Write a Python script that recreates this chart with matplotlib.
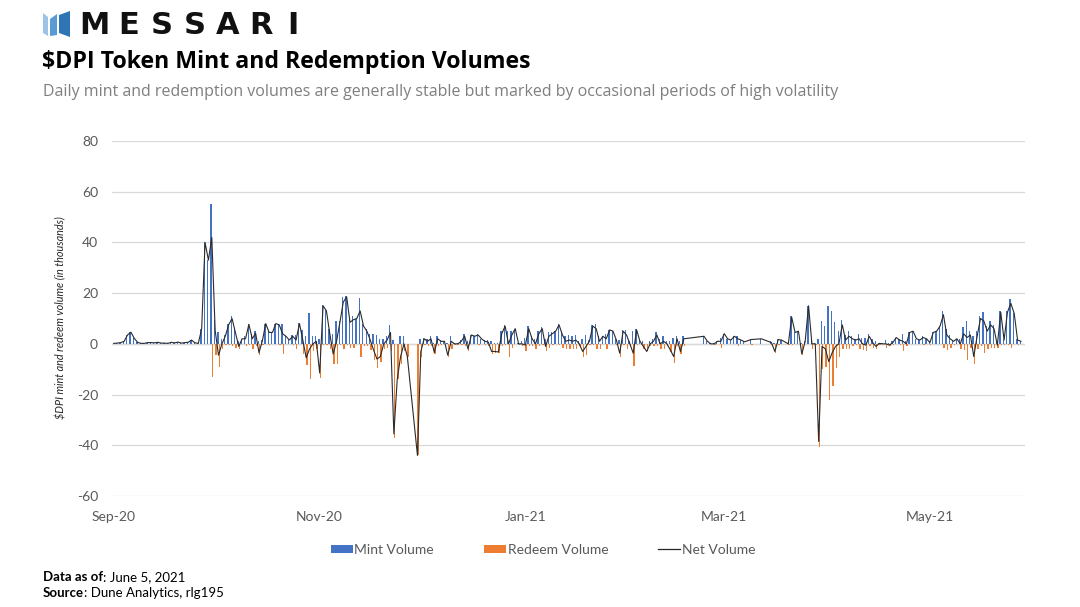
import numpy as np
import pandas as pd
import matplotlib
matplotlib.use("Agg")
import matplotlib.pyplot as plt
import matplotlib.dates as mdates
from matplotlib.patches import Polygon, Patch
from matplotlib.lines import Line2D

plt.rcParams["axes.unicode_minus"] = False

# ---------------- data (thousands of $DPI), daily from 2020-09-01 ----------------
start_date = "2020-09-01"
N = None  # day with no data

mint = [
    0.2, 0.3, 0.5, 1.0, 3.5, 4.6, 2.2, 0.6, 0.2, 0.3,
    0.5, 0.6, 0.4, 0.6, 0.3, 0.5, 0.2, 0.6, 0.4, 0.7,
    0.3, 0.5, 0.6, 1.5, 0.4, 0.2, 6.0, 40.0, 33.0, 55.0,
    9.5, 4.5, 2.0, 3.5, 8.0, 11.0, 6.0, 1.0, 2.0, 3.0,
    8.0, 4.0, 5.0, 1.0, 1.5, 8.0, 5.0, 4.5, 8.0, 8.0,
    8.0, 3.0, 1.5, 3.5, 3.5, 8.2, 5.5, 3.0, 12.0, 3.0,
    3.0, 2.0, 15.5, 13.5, 6.0, 4.0, 9.0, 9.0, 18.5, 19.0,
    10.0, 11.0, 10.0, 18.0, 8.0, 6.0, 4.0, 4.0, 3.5, 2.0,
    2.0, 3.0, 7.5, 1.5, 0.0, 3.0, 3.0, 0.0, N, N,
    0.0, 2.0, 2.5, 2.0, 3.0, 0.5, 3.0, 1.5, 1.0, 0.5,
    3.0, 0.5, 0.5, 1.5, 4.0, 1.0, 3.5, 3.0, 4.0, 2.0,
    1.5, 1.5, 1.0, 0.5, 0.3, 5.0, 7.5, 5.0, 5.0, 6.0,
    0.5, 1.0, 2.5, 7.0, 3.0, 2.0, 5.0, 6.5, 2.0, 4.5,
    4.5, 5.0, 8.0, 5.0, 3.0, 3.5, 3.0, 3.5, 1.0, 2.0,
    3.5, 1.5, 7.5, 8.0, 3.0, 3.0, 4.0, 5.5, 5.0, 2.0,
    1.5, 5.5, 5.5, 1.0, 5.0, 6.0, 1.0, 1.0, 0.0, 1.0,
    2.0, 4.5, 2.0, 3.0, 1.0, 1.0, 2.5, 3.0, 1.0, 3.0,
    N, N, N, N, N, 3.0, 1.0, 0.2, 0.5, 1.0,
    2.5, 4.0, 2.0, 1.5, 3.0, 3.0, 1.5, 1.0, N, 2.0,
    N, N, 2.0, N, N, 1.0, 0.5, 2.0, 1.5, N,
    0.5, 11.0, 4.5, 5.0, 0.5, 1.0, 15.0, 2.0, 0.5, 2.0,
    9.0, 7.0, 15.0, 13.0, 8.5, 5.0, 9.5, 3.5, 5.0, 3.0,
    2.0, 4.0, 2.5, 2.5, 4.0, 2.0, 1.0, 0.5, 0.2, 1.5,
    0.5, 1.0, 2.5, 2.0, 4.0, 1.0, 4.5, 5.0, 2.0, 1.5,
    3.0, 2.0, 1.0, 4.5, 5.0, 7.0, 13.0, 6.0, 3.5, 1.5,
    2.0, 2.0, 6.5, 9.0, 5.0, 3.0, 5.0, 11.0, 12.5, 7.0,
    9.0, 7.5, 1.0, 13.0, 2.0, 13.0, 17.5, 12.0, 2.0, 1.0,
]

redeem = [
    0, 0, 0, 0, 0, 0, 0, 0, 0, -0.1,
    0, -0.1, 0, 0, 0, -0.2, 0, 0, 0, 0,
    0, 0, 0, 0, 0, 0, 0, 0, 0, -13.0,
    -4.3, -9.0, -2.0, -0.5, -0.5, -1.0, -1.5, -2.0, 0, -1.0,
    -0.3, -2.0, -0.8, -4.5, -0.3, 0, -0.5, 0, 0, -0.5,
    -4.0, 0, 0, -0.5, -2.0, -0.2, -4.0, -8.5, -14.0, -3.0,
    -2.0, -13.5, -0.5, -0.5, -2.0, -8.0, -8.0, -0.5, -2.0, -0.5,
    -1.5, -1.5, 0, -5.0, -1.0, -1.0, -2.5, -6.5, -9.5, -7.0,
    -2.0, -1.5, -3.0, -37.0, -14.0, -8.0, -3.0, -5.0, N, N,
    -44.0, -5.0, -0.5, -1.0, -1.0, -3.9, -1.0, -0.5, 0, -5.0,
    -2.0, -0.5, -0.5, -0.5, -1.0, -3.0, 0, 0, -0.5, 0,
    -0.5, -0.8, -4.0, -3.5, -3.5, -1.0, -0.5, -5.0, -1.5, 0,
    -0.5, -1.0, -3.0, -1.0, -1.0, -2.0, -1.0, -0.5, -3.0, -1.5,
    -0.5, 0, -0.5, -1.5, -2.0, -2.0, -2.0, -2.0, -1.0, -5.0,
    -4.5, -0.5, -0.5, -2.0, -2.0, 0, -2.0, 0, 0, -0.5,
    -5.2, -0.5, -2.0, -1.0, -8.7, -0.5, 0, -2.0, -3.0, -1.0,
    -1.0, -1.0, -2.0, -2.0, -1.0, -3.4, -7.5, -1.0, -4.0, -1.0,
    N, N, N, N, N, 0, 0, -0.2, -0.5, 0,
    -1.5, 0, 0, 0, 0, -1.0, 0, -0.2, N, -0.3,
    N, N, 0, N, N, -0.5, -3.5, -0.3, 0, N,
    -0.5, -0.5, 0, 0, -4.5, 0, 0, -2.0, -0.5, -40.5,
    -10.0, -9.0, -22.0, -16.5, -9.5, -5.0, -2.0, -2.0, -2.0, -1.0,
    -0.5, -2.0, -2.5, -3.0, -1.0, -1.5, -2.0, -0.3, -0.2, -1.5,
    -1.0, -0.5, 0, -0.5, -3.0, -1.0, 0, 0, 0, 0,
    -0.5, 0, -0.5, 0, 0, 0, -1.5, -2.5, -1.5, -0.5,
    0, -2.0, -2.5, -6.5, -1.5, -8.0, -2.0, -1.0, -3.5, -2.0,
    -1.5, -1.5, -1.5, -0.5, -0.5, -0.5, -1.5, 0, -0.5, 0,
]

y_ticks = [80, 60, 40, 20, 0, -20, -40, -60]
x_tick_dates = ["2020-09-01", "2020-11-01", "2021-01-01", "2021-03-01", "2021-05-01"]

# ---------------- prepare ----------------
mint_a = np.array([np.nan if v is None else v for v in mint], dtype=float)
red_a = np.array([np.nan if v is None else v for v in redeem], dtype=float)
dates = pd.date_range(start_date, periods=len(mint_a), freq="D")
x = mdates.date2num(dates.to_pydatetime())
net_a = mint_a + red_a
ok = ~np.isnan(net_a)

BLUE = "#4472C4"
ORANGE = "#ED7D31"
GRID = "#D9D9D9"
TXT = "#595959"

W, H = 1080, 607
fig = plt.figure(figsize=(W / 100, H / 100), dpi=100)
fig.patch.set_facecolor("white")

def fx(px):
    return px / W

def fy(py):
    return 1 - py / H

ax = fig.add_axes([fx(112), fy(496), fx(1025) - fx(112), fy(141) - fy(496)])
ax.set_facecolor("white")

bw = 0.4
ax.bar(x[ok] - 0.21, mint_a[ok], width=bw, color=BLUE, linewidth=0, zorder=2)
ax.bar(x[ok] + 0.21, red_a[ok], width=bw, color=ORANGE, linewidth=0, zorder=2)
ax.plot(x[ok], net_a[ok], color="#2B2B2B", linewidth=0.8, zorder=3)

x0 = mdates.date2num(pd.Timestamp(start_date).to_pydatetime())
ax.set_xlim(x0 - 0.6, x0 + 270.2)
ax.set_ylim(-60, 80)
ax.set_yticks(y_ticks)
ax.yaxis.grid(True, color=GRID, linewidth=0.9, zorder=0)
ax.set_axisbelow(True)
ax.axhline(0, color=GRID, linewidth=1.0, zorder=1)
for s in ax.spines.values():
    s.set_visible(False)

ax.set_xticks(mdates.date2num(pd.to_datetime(x_tick_dates).to_pydatetime()))
ax.xaxis.set_major_formatter(mdates.DateFormatter("%b-%y"))
ax.tick_params(axis="both", length=0, labelsize=10, labelcolor=TXT)
ax.tick_params(axis="x", pad=11)
ax.tick_params(axis="y", pad=10)
for lab in ax.get_xticklabels() + ax.get_yticklabels():
    lab.set_fontfamily("Lato")

fig.text(fx(61), fy(318), "$DPI mint and redeem volume (in thousands)", rotation=90,
         ha="center", va="center", fontsize=7.8, style="italic", color="#262626",
         family="Lato")

handles = [Patch(facecolor=BLUE, edgecolor="none"),
           Patch(facecolor=ORANGE, edgecolor="none"),
           Line2D([0], [0], color="#262626", linewidth=0.9)]
labels = ["Mint Volume", "Redeem Volume", "Net Volume"]
leg = fig.legend(handles, labels, loc="center", bbox_to_anchor=(fx(543), fy(550)),
                 ncol=3, frameon=False, handlelength=1.6, handleheight=0.55,
                 handletextpad=0.1, columnspacing=3.6,
                 prop={"family": "Lato", "size": 10})
for t in leg.get_texts():
    t.set_color(TXT)

# ---------------- header ----------------
logo = [
    ([(43, 13), (48, 17), (48, 36), (43, 33)], "#9DC3E6"),
    ([(50, 19), (57, 14), (57, 35), (50, 36)], "#5B9BD5"),
    ([(59, 15), (70, 11), (70, 37), (59, 33)], "#2E75B6"),
]
for pts, col in logo:
    fig.patches.append(Polygon([(fx(a), fy(b)) for a, b in pts], closed=True,
                               transform=fig.transFigure, facecolor=col,
                               edgecolor="none"))

for ch, cx in zip("MESSARI", [94, 129, 162, 195, 228, 261, 293]):
    fig.text(fx(cx), fy(25.5), ch, ha="center", va="center", fontsize=22,
             fontweight="heavy", family="DejaVu Sans", color="#111111")

fig.text(fx(42), fy(62), "$DPI Token Mint and Redemption Volumes", ha="left",
         va="center", fontsize=16.7, fontweight="bold", family="Open Sans",
         color="black")
fig.text(fx(43), fy(92), "Daily mint and redemption volumes are generally stable but "
         "marked by occasional periods of high volatility", ha="left", va="center",
         fontsize=11.5, family="Open Sans", color="#7F7F7F")

# ---------------- footer ----------------
t1 = fig.text(fx(43), fy(577), "Data as of", ha="left", va="center", fontsize=9.5,
              fontweight="bold", family="Lato", color="black")
fig.canvas.draw()
r = fig.canvas.get_renderer()
bb = t1.get_window_extent(r)
fig.text(bb.x1 / W, fy(577), ": June 5, 2021", ha="left", va="center", fontsize=9.5,
         family="Lato", color="black")
t2 = fig.text(fx(43), fy(593), "Source", ha="left", va="center", fontsize=9.5,
              fontweight="bold", family="Lato", color="black")
bb2 = t2.get_window_extent(r)
fig.text(bb2.x1 / W, fy(593), ": Dune Analytics, rlg195", ha="left", va="center",
         fontsize=9.5, family="Lato", color="black")

fig.savefig("out.png", dpi=100, facecolor="white")
